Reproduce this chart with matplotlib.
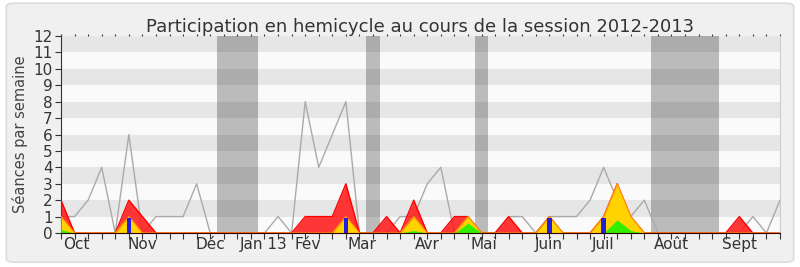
import numpy as np
import matplotlib
matplotlib.use("Agg")
import matplotlib.pyplot as plt
from matplotlib.patches import FancyBboxPatch

# one value per week of the session, week 0 = last week of September 2012
seances = [1, 1, 2, 4, 0, 6, 0, 1, 1, 1, 3, 0, 0, 0, 0, 0, 1, 0, 8, 4,
           6, 8, 0, 0, 0, 1, 1, 3, 4, 0, 0, 0, 0, 1, 1, 0, 1, 1, 1, 2,
           4, 2, 1, 2, 0, 0, 0, 0, 0, 0, 0, 1, 0, 2]
presences = [2, 0, 0, 0, 0, 2, 1, 0, 0, 0, 0, 0, 0, 0, 0, 0, 0, 0, 1, 1,
             1, 3, 0, 0, 1, 0, 2, 0, 0, 1, 1, 0, 0, 1, 0, 0, 1, 0, 0, 0,
             1, 3, 1, 0, 0, 0, 0, 0, 0, 0, 1, 0, 0, 0]
interventions = [1, 0, 0, 0, 0, 1, 0, 0, 0, 0, 0, 0, 0, 0, 0, 0, 0, 0, 0, 0,
                 0, 1, 0, 0, 0, 0, 1, 0, 0, 0, 1, 0, 0, 0, 0, 0, 1, 0, 0, 0,
                 1, 3, 1, 0, 0, 0, 0, 0, 0, 0, 0, 0, 0, 0]
commissions = [0.2, 0, 0, 0, 0, 0, 0, 0, 0, 0, 0, 0, 0, 0, 0, 0, 0, 0, 0, 0,
               0, 0, 0, 0, 0, 0, 0.15, 0, 0, 0, 0.6, 0, 0, 0, 0, 0, 0, 0, 0, 0,
               0, 0.8, 0.15, 0, 0, 0, 0, 0, 0, 0, 0, 0, 0, 0]
questions_semaines = [5, 21, 36, 40]
questions = [0.9, 0.9, 0.9, 0.9]

vacances = [(11.5, 14.5), (22.5, 23.5), (30.5, 31.5), (43.5, 48.5)]

mois = ["Oct", "Nov", "Déc", "Jan 13", "Fév", "Mar", "Avr", "Mai",
        "Juin", "Juil", "Août", "Sept"]
mois_pos = [1.15, 6.0, 11.0, 14.92, 18.2, 22.15, 27.0, 31.2, 35.97, 39.98, 45.0, 50.05]

semaines = np.arange(len(seances))

fig = plt.figure(figsize=(8, 2.67), dpi=100)
fig.patch.set_facecolor("white")
fig.patches.append(FancyBboxPatch((0.008, 0.018), 0.984, 0.97,
                                  boxstyle="round,pad=0,rounding_size=0.012",
                                  transform=fig.transFigure, facecolor="#f0f0f0",
                                  edgecolor="#dcdcdc", linewidth=1.2, zorder=-5))

ax = fig.add_axes([0.07625, 0.1273, 0.89875, 0.7379])
ax.set_facecolor("#fafafa")

# alternating horizontal stripes
for y0 in range(1, 12, 2):
    ax.axhspan(y0, y0 + 1, color="#e6e6e6", lw=0, zorder=0)

# holidays
for a, b in vacances:
    ax.axvspan(a, b, color="black", alpha=0.25, lw=0, zorder=1)

ax.plot(semaines, seances, color="#aaaaaa", lw=1, zorder=2)

ax.fill_between(semaines, presences, color="#ff2020", alpha=0.9, lw=0, zorder=3)
ax.plot(semaines, presences, color="#ff0000", lw=1, zorder=3)
ax.fill_between(semaines, interventions, color="#ffd200", lw=0, zorder=4)
ax.plot(semaines, interventions, color="#ffa000", lw=0.8, zorder=4)
ax.fill_between(semaines, commissions, color="#33ee00", lw=0, zorder=5)
ax.bar(questions_semaines, questions, width=0.32, color="#2020dd", zorder=6)

ax.set_xlim(0, 53)
ax.set_ylim(0, 12)
ax.set_yticks(range(13))
ax.xaxis.remove_overlapping_locs = False
ax.set_xticks(semaines)
ax.set_xticklabels([])
ax.set_xticks(mois_pos, minor=True)
ax.set_xticklabels(mois, minor=True)
ax.tick_params(axis="x", which="major", direction="out", length=4, width=0.8,
               color="#333333", top=True)
ax.tick_params(axis="x", which="minor", length=0, pad=3, labelsize=11,
               labelcolor="#333333")
ax.tick_params(axis="y", direction="out", length=4, width=0.8, color="#333333",
               labelsize=11, labelcolor="#333333", pad=2)
for t in ax.xaxis.get_major_ticks():
    t.tick2line.set_markersize(1.5)
    t.tick2line.set_color("#222222")

ax.spines["top"].set_visible(False)
ax.spines["right"].set_color("#cccccc")
ax.spines["left"].set_color("#333333")
ax.spines["bottom"].set_color("#330000")
ax.spines["bottom"].set_zorder(7)

ax.set_ylabel("Séances par semaine", fontsize=10.5, color="#444444", labelpad=4)
ax.set_title("Participation en hemicycle au cours de la session 2012-2013",
             fontsize=13, color="#333333", pad=3)

fig.savefig("out.png", dpi=100, facecolor=fig.get_facecolor())
